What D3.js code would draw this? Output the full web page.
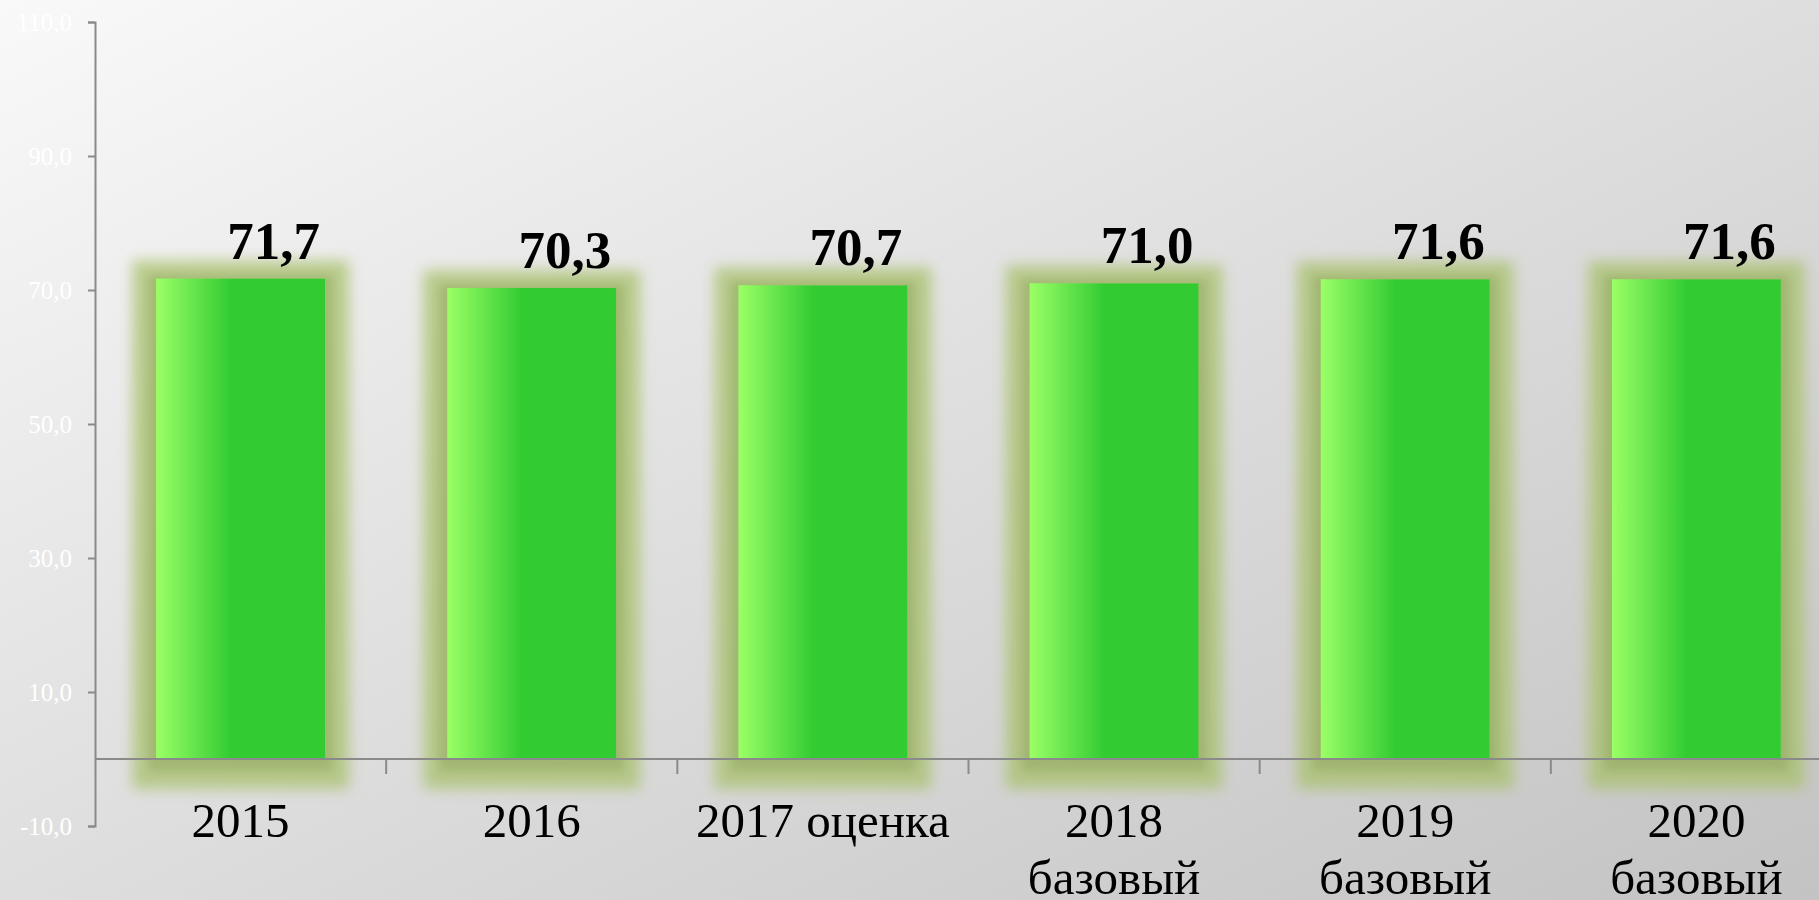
<!DOCTYPE html>
<html>
<head>
<meta charset="utf-8">
<script src="https://cdn.jsdelivr.net/npm/d3@7"></script>
<style>
  html, body { margin: 0; padding: 0; overflow: hidden; }
  svg { display: block; }
</style>
</head>
<body>
<div id="vis"></div>
<script>
const categories = [
  ["2015"],
  ["2016"],
  ["2017 оценка"],
  ["2018", "базовый"],
  ["2019", "базовый"],
  ["2020", "базовый"]
];
const values = [71.7, 70.3, 70.7, 71.0, 71.6, 71.6];
const y_ticks = [-10, 10, 30, 50, 70, 90, 110];

const frame_width = 1819;
const frame_height = 900;
const margins = {left: 95, top: 22, bottom: 74};

const ru = d3.formatLocale({decimal: ",", thousands: " ", grouping: [3], currency: ["", ""], minus: "-"});
const fmt = ru.format(".1f");

const keys = categories.map((d) => d.join(" "));

const x_scale = d3.scaleBand()
  .domain(keys)
  .range([margins.left, 1842])
  .paddingInner(0.42)
  .paddingOuter(0.21);

const y_scale = d3.scaleLinear()
  .domain([-10, 110])
  .range([frame_height - margins.bottom, margins.top]);

const svg = d3.select("#vis")
  .append("svg")
    .attr("width", frame_width)
    .attr("height", frame_height);

const defs = svg.append("defs");

// background
const bg = defs.append("linearGradient")
  .attr("id", "bg")
  .attr("x1", 0).attr("y1", 0).attr("x2", 1).attr("y2", 1);
bg.append("stop").attr("offset", "0%").attr("stop-color", "#f9f9f9");
bg.append("stop").attr("offset", "100%").attr("stop-color", "#c3c3c3");

// bar fill
const bar_grad = defs.append("linearGradient")
  .attr("id", "barfill")
  .attr("x1", 0).attr("y1", 0).attr("x2", 1).attr("y2", 0);
bar_grad.append("stop").attr("offset", "0%").attr("stop-color", "#9bff66");
bar_grad.append("stop").attr("offset", "44%").attr("stop-color", "#33cc33");
bar_grad.append("stop").attr("offset", "100%").attr("stop-color", "#33cc33");

// olive glow round the bars
const glow = defs.append("filter")
  .attr("id", "glow")
  .attr("filterUnits", "userSpaceOnUse")
  .attr("x", 0).attr("y", 0)
  .attr("width", frame_width).attr("height", frame_height);
glow.append("feMorphology")
  .attr("in", "SourceAlpha").attr("operator", "dilate").attr("radius", 24).attr("result", "big");
glow.append("feGaussianBlur")
  .attr("in", "big").attr("stdDeviation", 7).attr("result", "soft");
glow.append("feFlood")
  .attr("flood-color", "#a9c16e").attr("flood-opacity", 0.75);
glow.append("feComposite")
  .attr("in2", "soft").attr("operator", "in").attr("result", "g1");
glow.append("feOffset")
  .attr("in", "g1").attr("dy", 6).attr("result", "g2");
glow.append("feMorphology")
  .attr("in", "SourceAlpha").attr("operator", "dilate").attr("radius", 8).attr("result", "small");
glow.append("feGaussianBlur")
  .attr("in", "small").attr("stdDeviation", 5).attr("result", "soft2");
glow.append("feFlood")
  .attr("flood-color", "#7f9a4a").attr("flood-opacity", 0.4);
glow.append("feComposite")
  .attr("in2", "soft2").attr("operator", "in").attr("result", "g3");
glow.append("feOffset")
  .attr("in", "g3").attr("dy", 4).attr("result", "g4");
const merge = glow.append("feMerge");
merge.append("feMergeNode").attr("in", "g2");
merge.append("feMergeNode").attr("in", "g4");
merge.append("feMergeNode").attr("in", "SourceGraphic");

svg.append("rect")
  .attr("width", frame_width)
  .attr("height", frame_height)
  .attr("fill", "url(#bg)");

const data = keys.map((k, i) => ({key: k, lines: categories[i], value: values[i]}));

// bars
svg.selectAll(".bar")
  .data(data)
  .enter()
  .append("rect")
    .attr("class", "bar")
    .attr("x", (d) => x_scale(d.key))
    .attr("y", (d) => y_scale(d.value))
    .attr("width", x_scale.bandwidth())
    .attr("height", (d) => y_scale(0) - y_scale(d.value))
    .attr("fill", "url(#barfill)")
    .attr("filter", "url(#glow)");

// y axis
const y_axis = svg.append("g")
  .attr("transform", "translate(" + margins.left + ",0)")
  .call(d3.axisLeft(y_scale)
    .tickValues(y_ticks)
    .tickFormat(fmt)
    .tickSize(7)
    .tickSizeOuter(7)
    .tickPadding(16));
y_axis.selectAll("path, line").attr("stroke", "#8a8a8a").attr("stroke-width", 2);
y_axis.selectAll("text")
  .attr("fill", "#ffffff")
  .attr("font-family", "'Liberation Serif', 'Times New Roman', serif")
  .attr("font-size", "25px");

// x axis line at zero
svg.append("line")
  .attr("x1", margins.left)
  .attr("x2", frame_width)
  .attr("y1", y_scale(0))
  .attr("y2", y_scale(0))
  .attr("stroke", "#8a8a8a")
  .attr("stroke-width", 2);

// category separators
svg.selectAll(".sep")
  .data(data)
  .enter()
  .append("line")
    .attr("class", "sep")
    .attr("x1", (d) => x_scale(d.key) + x_scale.bandwidth() / 2 + x_scale.step() / 2)
    .attr("x2", (d) => x_scale(d.key) + x_scale.bandwidth() / 2 + x_scale.step() / 2)
    .attr("y1", y_scale(0))
    .attr("y2", y_scale(0) + 15)
    .attr("stroke", "#8a8a8a")
    .attr("stroke-width", 2);

// category labels
const cat = svg.selectAll(".cat")
  .data(data)
  .enter()
  .append("text")
    .attr("class", "cat")
    .attr("text-anchor", "middle")
    .attr("font-family", "'Liberation Serif', 'Times New Roman', serif")
    .attr("font-size", "49px")
    .attr("fill", "#000");
cat.selectAll("tspan")
  .data((d) => d.lines.map((l) => ({l: l, d: d})))
  .enter()
  .append("tspan")
    .attr("x", (t) => x_scale(t.d.key) + x_scale.bandwidth() / 2)
    .attr("y", (t, i) => y_scale(0) + 78 + i * 57)
    .text((t) => t.l);

// value labels
svg.selectAll(".val")
  .data(data)
  .enter()
  .append("text")
    .attr("class", "val")
    .attr("x", (d) => x_scale(d.key) + x_scale.bandwidth() / 2 + 33)
    .attr("y", (d) => y_scale(d.value) - 20)
    .attr("text-anchor", "middle")
    .attr("font-family", "'Liberation Serif', 'Times New Roman', serif")
    .attr("font-weight", "bold")
    .attr("font-size", "53px")
    .attr("fill", "#000")
    .text((d) => fmt(d.value));
</script>
</body>
</html>
